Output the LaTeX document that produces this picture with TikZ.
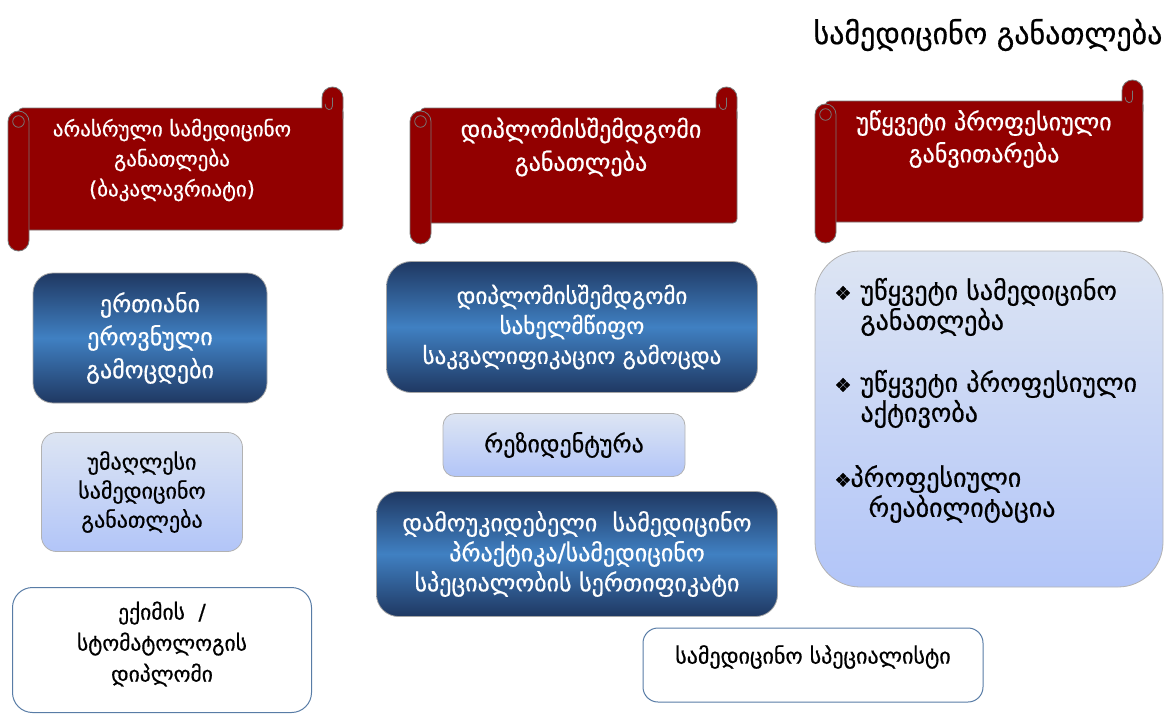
\documentclass[tikz,border=0pt]{standalone}
\usepackage{fontspec}
\setmainfont{DejaVu Sans}[FakeBold=0.6]
\usepackage{tikz}
\usetikzlibrary{positioning}

\definecolor{scrollred}{RGB}{146,0,0}
\definecolor{rollgray}{RGB}{120,120,120}
\definecolor{navyedge}{RGB}{31,56,98}
\definecolor{navymid}{RGB}{64,128,194}
\definecolor{paletop}{RGB}{221,229,243}
\definecolor{palebottom}{RGB}{178,197,248}
\definecolor{frameblue}{RGB}{88,124,166}

\newcommand{\geosize}[2]{\fontsize{#1}{#2}\selectfont}
\newcommand{\Bullet}{{\geosize{19}{30}❖}}

% horizontal scroll: #1 left, #2 right, #3 top of sheet, #4 bottom of sheet
\newcommand{\DrawScroll}[4]{%
	\pgfmathsetmacro{\rollR}{10.5}
	% sheet
	\filldraw[scrollred, draw=rollgray, line width=0.8pt, rounded corners=4pt] (#1+\rollR,#3) -- (#2,#3) -- (#2,#4) -- (#1+\rollR,#4) -- cycle;
	% roll at the top right
	\fill[scrollred, rounded corners=\rollR pt] (#2-2*\rollR,#3+\rollR) -- (#2-2*\rollR,#3-2*\rollR) -- (#2,#3-2*\rollR) -- (#2,#3+\rollR) -- cycle;
	\draw[rollgray, line width=0.8pt, rounded corners=\rollR pt] (#2-2*\rollR,#3) -- (#2-2*\rollR,#3-2*\rollR) -- (#2,#3-2*\rollR) -- (#2,#3+\rollR);
	\draw[rollgray, line width=0.8pt] (#2-\rollR,#3-\rollR) -- (#2-\rollR,#3-0.2*\rollR) .. controls (#2-\rollR,#3+0.3*\rollR) and (#2-1.7*\rollR,#3+0.3*\rollR) .. (#2-1.7*\rollR,#3-0.4*\rollR);
	% roll on the left
	\filldraw[scrollred, draw=rollgray, line width=0.8pt, rounded corners=\rollR pt] (#1,#3+3) rectangle (#1+2*\rollR,#4+2*\rollR);
	\draw[rollgray, line width=0.8pt] (#1+\rollR,#3+3+\rollR) circle[radius=0.55*\rollR];
}

\begin{document}
\begin{tikzpicture}[x=1pt, y=-1pt,
	bluebox/.style={draw=gray!70, line width=0.8pt, top color=navyedge, bottom color=navyedge, middle color=navymid, text=white, align=center},
	palebox/.style={draw=gray!60, line width=0.8pt, top color=paletop, bottom color=palebottom, align=center},
	plainbox/.style={draw=frameblue, line width=1pt, fill=white, align=center},
	scrolltext/.style={text=white, align=center},
	listitem/.style={anchor=west, align=left, font={\geosize{26}{30}}}]
\useasboundingbox (0,0) rectangle (1169,720);

% Title
\node[font={\geosize{30}{34}}] (title) at (988,35) {სამედიცინო განათლება};

% Draw scrolls
\DrawScroll{8}{343}{108}{230}
\DrawScroll{410}{737}{108}{223}
\DrawScroll{815}{1143}{101}{222}
\node[scrolltext, font={\geosize{21}{30}}] (bachelor) at (172,160) {არასრული სამედიცინო\\განათლება\\(ბაკალავრიატი)};
\node[scrolltext, font={\geosize{24}{33}}] (postgrad) at (581,147) {დიპლომისშემდგომი\\განათლება};
\node[scrolltext, font={\geosize{24}{32}}] (development) at (984,139) {უწყვეტი პროფესიული\\განვითარება};

% Left column
\node[bluebox, font={\geosize{24}{33}}, rounded corners=20pt, minimum width=234pt, minimum height=130pt] (exams) at (150,338) {ერთიანი\\ეროვნული\\გამოცდები};
\node[palebox, font={\geosize{22}{29}}, rounded corners=15pt, minimum width=201pt, minimum height=119pt] (higher) at (142,492) {უმაღლესი\\სამედიცინო\\განათლება};
\node[plainbox, rounded corners=20pt, minimum width=299pt, minimum height=125pt] (diploma) at (162,650) {};
\node[font={\geosize{21.5}{31}}, align=center] (diplomatext) at (162,644) {ექიმის \ /\\სტომატოლოგის\\დიპლომი};

% Middle column
\node[bluebox, font={\geosize{23}{30}}, rounded corners=25pt, minimum width=371pt, minimum height=131pt] (stateexam) at (572,327) {დიპლომისშემდგომი\\სახელმწიფო\\საკვალიფიკაციო გამოცდა};
\node[palebox, font={\geosize{24}{30}}, rounded corners=12pt, minimum width=242pt, minimum height=63pt] (residency) at (564,445) {რეზიდენტურა};
\node[bluebox, font={\geosize{24}{30}}, rounded corners=22pt, minimum width=401pt, minimum height=125pt] (practice) at (577,554) {დამოუკიდებელი \ სამედიცინო\\პრაქტიკა/სამედიცინო\\სპეციალობის სერთიფიკატი};
\node[plainbox, rounded corners=15pt, minimum width=340pt, minimum height=74pt] (specialist) at (813,665) {};
\node[font={\geosize{22}{30}}] (specialisttext) at (813,657) {სამედიცინო სპეციალისტი};

% Right column
\node[palebox, rounded corners=45pt, minimum width=348pt, minimum height=336pt] (cpdbox) at (989,419) {};
\node[listitem] (cpdone) at (831,307) {\makebox[26pt][l]{\Bullet}უწყვეტი სამედიცინო\\\hspace*{26pt}განათლება};
\node[listitem] (cpdtwo) at (831,399) {\makebox[26pt][l]{\Bullet}უწყვეტი პროფესიული\\\hspace*{26pt}აქტივობა};
\node[listitem] (cpdthree) at (831,494) {\makebox[16pt][l]{\Bullet}პროფესიული\\\hspace*{34pt}რეაბილიტაცია};
\end{tikzpicture}
\end{document}
